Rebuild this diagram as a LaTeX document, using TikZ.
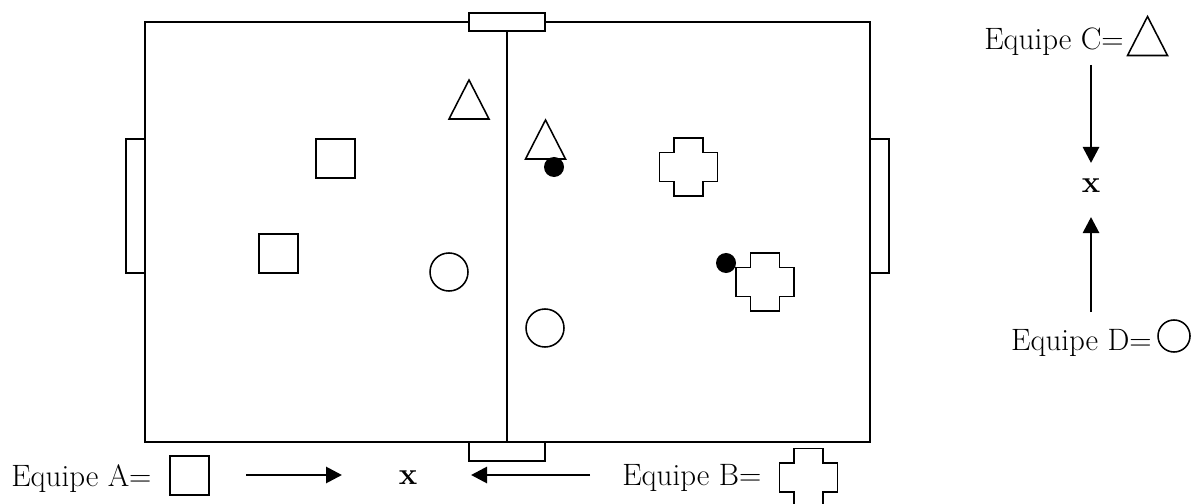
\documentclass[tikz,border=0pt]{standalone}
\usepackage{tikz}
\usetikzlibrary{arrows.meta,positioning,calc}
\tikzset{
  field/.style={line width=1.2pt,black},
  goalbox/.style={line width=1.2pt,draw=black,fill=white},
  player/.style={line width=1.1pt,draw=black,fill=white},
  sqp/.style={rectangle,draw,line width=1.1pt,minimum size=0.975cm,inner sep=0pt},
  circp/.style={circle,draw,line width=1.1pt,minimum size=0.95cm,inner sep=0pt},
  ball/.style={circle,fill=black,inner sep=0pt,minimum size=0.5cm},
  lab/.style={font=\fontsize{22}{26}\selectfont,inner sep=0pt},
  pointer/.style={line width=2pt,-{Triangle[length=4mm,width=4mm]}},
  trip/.pic={\draw[player] (-20,19.5) -- (0,-19.5) -- (20,19.5) -- cycle;},
  crossp/.pic={\draw[player] (-14.5,-29) -- (14.5,-29) -- (14.5,-14.5) -- (29,-14.5)
    -- (29,14.5) -- (14.5,14.5) -- (14.5,29) -- (-14.5,29) -- (-14.5,14.5)
    -- (-29,14.5) -- (-29,-14.5) -- (-14.5,-14.5) -- cycle;}
}
\begin{document}
\begin{tikzpicture}[x=0.025cm,y=-0.025cm]
  \useasboundingbox (0,0) rectangle (1201,504);
  \clip (0,0) rectangle (1201,504);

  % pitch
  \draw[field] (145,22) rectangle (870,442);
  \draw[field] (507,22) -- (507,442);
  \draw[goalbox] (469,13) rectangle (545,31);
  \draw[goalbox] (469,442) rectangle (545,461);
  \draw[goalbox] (126,139) rectangle (145,273);
  \draw[goalbox] (870,139) rectangle (889,273);

  % players, left half
  \node[sqp] (a1) at (335.5,158.5) {};
  \node[sqp] (a2) at (278.5,253.5) {};
  \pic at (469,99.5) {trip};
  \node[circp] (d1) at (449,272) {};

  % players, right half
  \pic at (545.5,139.5) {trip};
  \node[ball] (ball1) at (554,167) {};
  \node[circp] (d2) at (545,328) {};
  \pic at (688.5,167) {crossp};
  \pic at (765,282) {crossp};
  \node[ball] (ball2) at (726,263) {};

  % legend C / D
  \node[lab,anchor=base east] (eqC) at (1124,50) {Equipe C=};
  \pic at (1147.5,36) {trip};
  \node[lab,anchor=base] (xR) at (1091,193) {\textbf{x}};
  \coordinate (cTail) at (1091,65);
  \coordinate (cHead) at (1091,163);
  \draw[pointer] (cTail) -- (cHead);
  \node[lab,anchor=base east] (eqD) at (1152,350) {Equipe D=};
  \node[circp,minimum size=0.8cm] (dLeg) at (1174,336) {};
  \coordinate (dTail) at (1091,312);
  \coordinate (dHead) at (1091,217);
  \draw[pointer] (dTail) -- (dHead);

  % legend A / B
  \node[lab,anchor=base west] (eqA) at (11,486) {Equipe A=};
  \node[sqp] (aLeg) at (189.5,475.5) {};
  \coordinate (aTail) at (246,475);
  \coordinate (aHead) at (342,475);
  \draw[pointer] (aTail) -- (aHead);
  \node[lab,anchor=base] (xB) at (408,484) {\textbf{x}};
  \coordinate (bTail) at (590,475);
  \coordinate (bHead) at (471,475);
  \draw[pointer] (bTail) -- (bHead);
  \node[lab,anchor=base west] (eqB) at (622,485) {Equipe B=};
  \pic at (808.5,477.5) {crossp};
\end{tikzpicture}
\end{document}
